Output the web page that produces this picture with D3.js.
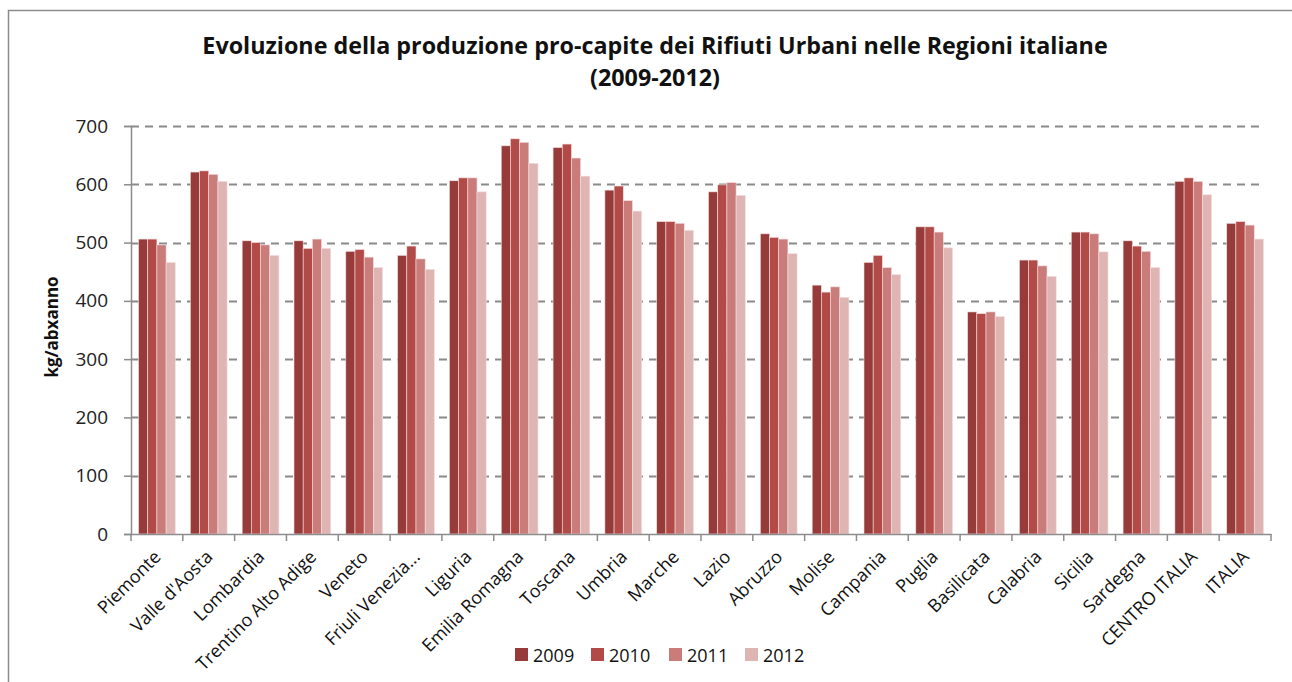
<!DOCTYPE html>
<html>
<head>
  <meta charset="utf-8">
  <title>Rifiuti Urbani pro-capite</title>
  <style>
    body { margin: 0; background: #fff; }
    svg { display: block; font-family: "Open Sans", "DejaVu Sans", sans-serif; }
  </style>
</head>
<body>
  <svg id="chart" width="1292" height="682"></svg>
  <script src="https://d3js.org/d3.v7.min.js"></script>
  <script>
    // dati
    const regioni = ["Piemonte", "Valle d'Aosta", "Lombardia", "Trentino Alto Adige", "Veneto",
      "Friuli Venezia...", "Liguria", "Emilia Romagna", "Toscana", "Umbria", "Marche", "Lazio",
      "Abruzzo", "Molise", "Campania", "Puglia", "Basilicata", "Calabria", "Sicilia", "Sardegna",
      "CENTRO ITALIA", "ITALIA"];
    const anni = ["2009", "2010", "2011", "2012"];
    const v2009 = [506, 621, 503, 503, 485, 478, 606, 666, 663, 590, 536, 587, 515, 427, 466, 527, 381, 470, 518, 503, 605, 533];
    const v2010 = [506, 623, 500, 490, 488, 494, 611, 678, 669, 597, 536, 599, 509, 415, 478, 527, 378, 470, 518, 494, 611, 536];
    const v2011 = [496, 617, 496, 506, 475, 472, 611, 672, 645, 572, 533, 603, 506, 424, 457, 518, 381, 460, 515, 485, 605, 530];
    const v2012 = [466, 605, 478, 490, 457, 454, 587, 636, 614, 554, 521, 581, 481, 406, 445, 491, 373, 442, 484, 457, 582, 506];
    const yTicks = [0, 100, 200, 300, 400, 500, 600, 700];
    const colori = ["#963b3a", "#b24a47", "#ca7c7a", "#dfb5b4"];

    const serie = [v2009, v2010, v2011, v2012];
    const svg = d3.select("#chart");

    // cornice del grafico
    svg.append("rect")
      .attr("x", 8.5).attr("y", 10.5)
      .attr("width", 1300).attr("height", 700)
      .attr("fill", "none").attr("stroke", "#8c8c8c").attr("stroke-width", 1.5);

    const pLeft = 131, pRight = 1271, pTop = 126, pBottom = 534;

    const x = d3.scaleBand().domain(regioni).range([pLeft, pRight]).paddingInner(0).paddingOuter(0);
    const xs = d3.scaleBand().domain(anni).range([0, x.bandwidth()]).paddingInner(0).paddingOuter(0.82);
    const y = d3.scaleLinear().domain([0, 700]).range([pBottom, pTop]);

    // griglia tratteggiata
    svg.append("g")
      .selectAll("line")
      .data(yTicks.filter(d => d > 0))
      .enter().append("line")
      .attr("x1", pLeft).attr("x2", pRight - 6)
      .attr("y1", d => Math.round(y(d)) + 0.5).attr("y2", d => Math.round(y(d)) + 0.5)
      .attr("stroke", "#8a8a8a").attr("stroke-width", 2)
      .attr("stroke-dasharray", "8,6");

    // barre
    const gruppi = svg.append("g")
      .selectAll("g")
      .data(regioni)
      .enter().append("g")
      .attr("transform", d => `translate(${x(d)},0)`);

    gruppi.selectAll("rect")
      .data((d, i) => anni.map((a, k) => ({ anno: a, val: serie[k][i] })))
      .enter().append("rect")
      .attr("x", d => xs(d.anno))
      .attr("width", xs.bandwidth())
      .attr("y", d => y(d.val))
      .attr("height", d => y(0) - y(d.val))
      .attr("fill", (d, k) => colori[k])
      .attr("stroke", "#f4dede").attr("stroke-width", 0.6);

    // asse y
    const yAxis = svg.append("g")
      .attr("transform", `translate(${pLeft},0)`)
      .call(d3.axisLeft(y).tickValues(yTicks).tickSize(7).tickPadding(16));
    yAxis.select(".domain").attr("stroke", "#8c8c8c").attr("stroke-width", 1.5);
    yAxis.selectAll(".tick line").attr("stroke", "#8c8c8c").attr("stroke-width", 1.5);
    yAxis.selectAll("text").attr("font-size", 19).attr("fill", "#222")
      .attr("font-family", "'Open Sans', sans-serif");

    // asse x
    const xAxis = svg.append("g")
      .attr("transform", `translate(0,${pBottom})`)
      .call(d3.axisBottom(x).tickSize(0).tickFormat(""));
    xAxis.select(".domain").attr("stroke", "#8c8c8c").attr("stroke-width", 1.5);
    const confini = regioni.map(r => x(r)).concat([pRight]);
    xAxis.selectAll(".sep")
      .data(confini)
      .enter().append("line")
      .attr("class", "sep")
      .attr("x1", d => d).attr("x2", d => d)
      .attr("y1", 0).attr("y2", 7)
      .attr("stroke", "#8c8c8c").attr("stroke-width", 1.5);

    svg.append("g")
      .selectAll("text")
      .data(regioni)
      .enter().append("text")
      .attr("transform", d => `translate(${x(d) + x.bandwidth() / 2 + 5},${pBottom + 24}) rotate(-45)`)
      .attr("text-anchor", "end")
      .attr("font-size", 18)
      .attr("fill", "#111")
      .text(d => d);

    // titolo asse y
    svg.append("text")
      .attr("transform", `translate(58,327) rotate(-90)`)
      .attr("text-anchor", "middle")
      .attr("font-size", 17).attr("font-weight", "bold")
      .attr("fill", "#111")
      .text("kg/abxanno");

    // titolo
    const titolo = svg.append("text")
      .attr("x", 655).attr("text-anchor", "middle")
      .attr("font-size", 23.3).attr("font-weight", "bold").attr("fill", "#111");
    titolo.append("tspan").attr("x", 655).attr("y", 54)
      .text("Evoluzione della produzione pro-capite dei Rifiuti Urbani nelle Regioni italiane");
    titolo.append("tspan").attr("x", 655).attr("y", 86).text("(2009-2012)");

    // legenda
    const posLeg = [515, 591, 669, 745];
    const leg = svg.append("g")
      .selectAll("g")
      .data(anni)
      .enter().append("g")
      .attr("transform", (d, i) => `translate(${posLeg[i]},648)`);
    leg.append("rect").attr("width", 13).attr("height", 13)
      .attr("fill", (d, i) => colori[i]);
    leg.append("text").attr("x", 18).attr("y", 13.5)
      .attr("font-size", 18).attr("fill", "#111")
      .text(d => d);
  </script>
</body>
</html>
